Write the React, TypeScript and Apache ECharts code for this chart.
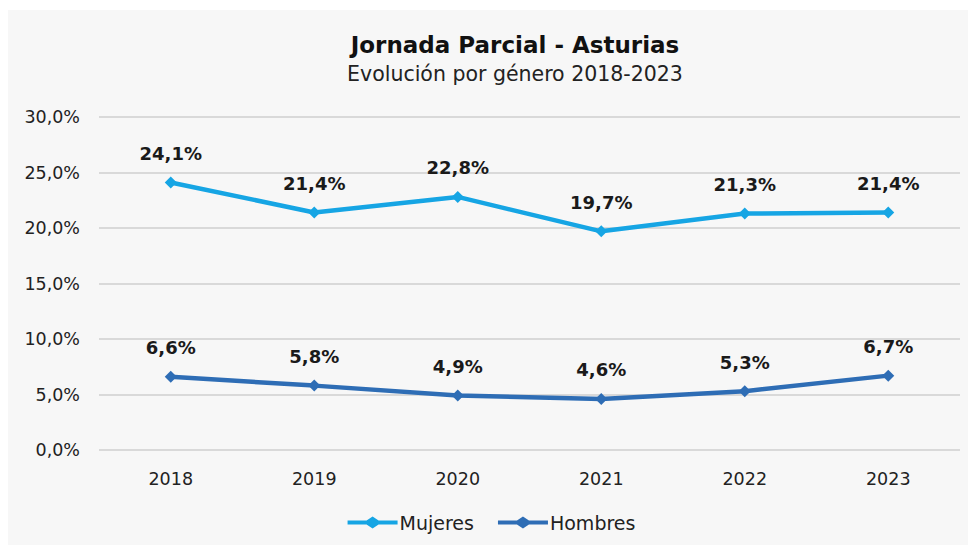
import React, { useEffect, useRef } from "react";
import * as echarts from "echarts";

const years = ["2018", "2019", "2020", "2021", "2022", "2023"];
const mujeres = [24.1, 21.4, 22.8, 19.7, 21.3, 21.4];
const hombres = [6.6, 5.8, 4.9, 4.6, 5.3, 6.7];

const FONT = "DejaVu Sans";
const fmt = (v: number) => v.toFixed(1).replace(".", ",") + "%";

export default function App() {
  const ref = useRef<HTMLDivElement>(null);
  useEffect(() => {
    const chart = echarts.init(ref.current!, null, { renderer: "svg" });
    const icon = "path://M0,4L19,4L25,0L31,4L50,4L50,8L31,8L25,12L19,8L0,8Z";
    const mkSeries = (name: string, data: number[], color: string) => ({
      name,
      type: "line",
      data,
      symbol: "diamond",
      symbolSize: 12,
      lineStyle: { width: 4.5, color },
      itemStyle: { color },
      label: {
        show: true,
        position: "top",
        distance: 14,
        formatter: (p: any) => fmt(p.value),
        fontFamily: FONT,
        fontWeight: "bold",
        fontSize: 18,
        color: "#1a1a1a",
      },
    });
    chart.setOption({
      animation: false,
      backgroundColor: "#f7f7f7",
      title: {
        text: "Jornada Parcial - Asturias",
        subtext: "Evolución por género 2018-2023",
        left: 503,
        textAlign: "center",
        top: 18,
        itemGap: 7,
        textStyle: { fontFamily: FONT, fontWeight: "bold", fontSize: 23, color: "#111" },
        subtextStyle: { fontFamily: FONT, fontSize: 20.5, color: "#222" },
      },
      legend: {
        bottom: 16,
        left: "center",
        itemWidth: 50,
        itemHeight: 12,
        itemGap: 24,
        textStyle: { fontFamily: FONT, fontSize: 19, color: "#222", padding: [0, 0, 0, -3] },
        data: [
          { name: "Mujeres", icon },
          { name: "Hombres", icon },
        ],
      },
      grid: { left: 92, right: 16, top: 107, bottom: 103 },
      xAxis: {
        type: "category",
        data: years,
        boundaryGap: true,
        axisLine: { show: false },
        axisTick: { show: false },
        axisLabel: { fontFamily: FONT, fontSize: 17.5, color: "#222", margin: 20 },
      },
      yAxis: {
        type: "value",
        min: 0,
        max: 30,
        interval: 5,
        axisLabel: { fontFamily: FONT, fontSize: 17.5, color: "#222", margin: 19, formatter: fmt },
        splitLine: { lineStyle: { color: "#cfcfcf", width: 1.5 } },
      },
      series: [
        mkSeries("Mujeres", mujeres, "#16a5e4"),
        mkSeries("Hombres", hombres, "#2e6db5"),
      ],
    });
    return () => chart.dispose();
  }, []);
  return (
    <div style={{ width: 976, height: 553, margin: -8, background: "#fff", position: "relative" }}>
      <div style={{ position: "absolute", left: 7, top: 10, width: 969, height: 543 }}>
        <div ref={ref} style={{ width: 969, height: 543 }} />
      </div>
    </div>
  );
}
